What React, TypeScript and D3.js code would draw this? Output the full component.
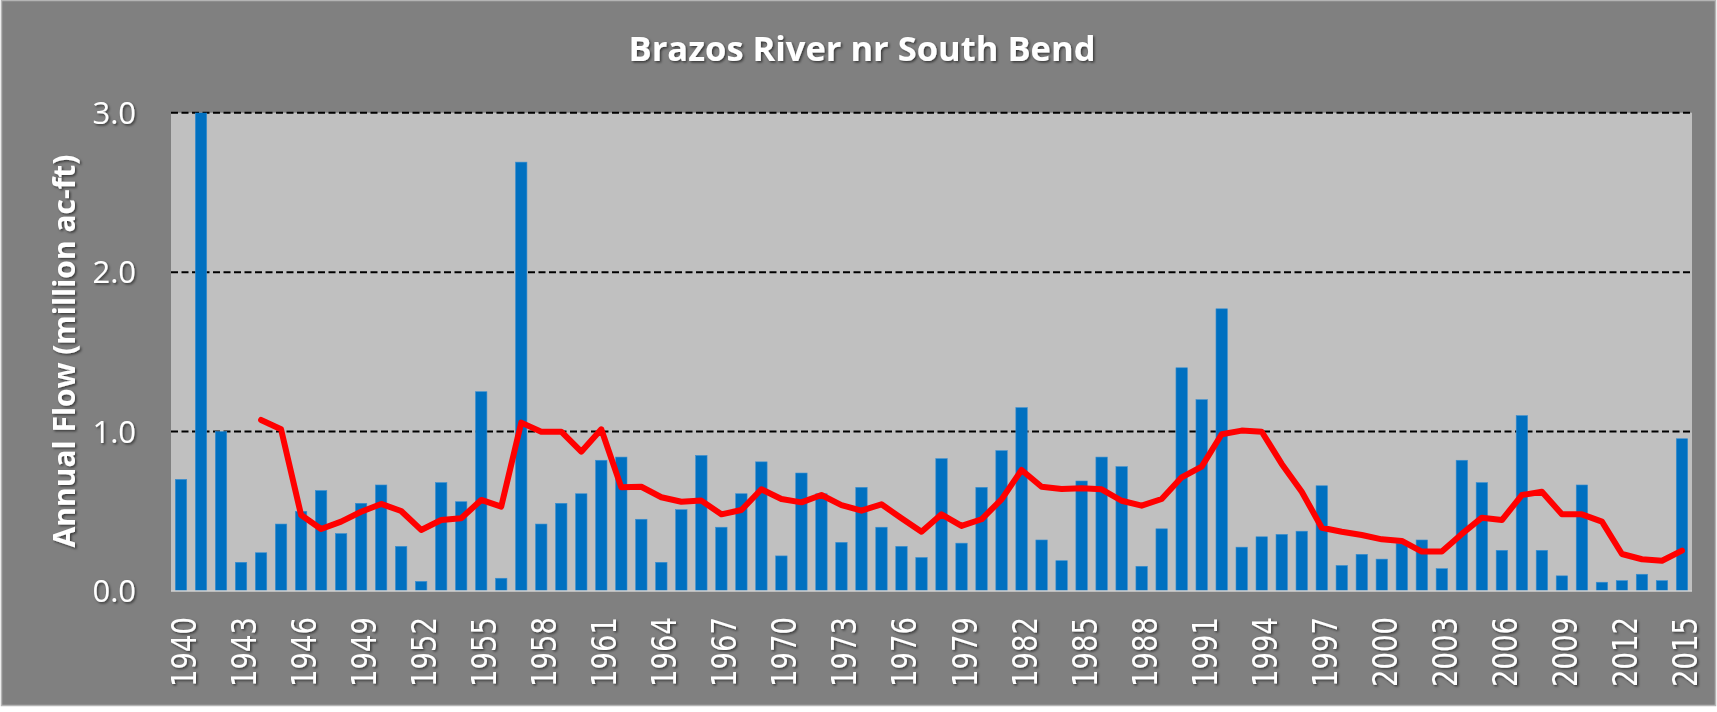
import React from "react";
import * as d3 from "d3";

const years: number[] = d3.range(1940, 2016);

const annualFlow: number[] = [
  0.70, 3.25, 1.00, 0.18, 0.24, 0.42, 0.50, 0.63, 0.36, 0.55,
  0.665, 0.28, 0.06, 0.68, 0.56, 1.25, 0.08, 2.69, 0.42, 0.55,
  0.61, 0.82, 0.84, 0.45, 0.18, 0.51, 0.85, 0.40, 0.61, 0.81,
  0.22, 0.74, 0.61, 0.305, 0.65, 0.40, 0.28, 0.21, 0.83, 0.30,
  0.65, 0.88, 1.15, 0.32, 0.19, 0.69, 0.84, 0.78, 0.155, 0.39,
  1.40, 1.20, 1.77, 0.275, 0.34, 0.355, 0.375, 0.66, 0.16, 0.23,
  0.20, 0.30, 0.32, 0.14, 0.82, 0.68, 0.255, 1.10, 0.255, 0.095,
  0.665, 0.055, 0.065, 0.105, 0.065, 0.955,
];

const movingAvg: (number | null)[] = [
  null, null, null, null, 1.073, 1.014, 0.477, 0.389, 0.435, 0.497,
  0.546, 0.502, 0.383, 0.445, 0.456, 0.571, 0.529, 1.056, 0.999, 0.999,
  0.874, 1.014, 0.65, 0.654, 0.588, 0.56, 0.567, 0.481, 0.508, 0.638,
  0.577, 0.556, 0.602, 0.539, 0.504, 0.544, 0.456, 0.372, 0.481, 0.408,
  0.45, 0.575, 0.759, 0.654, 0.64, 0.644, 0.638, 0.566, 0.535, 0.577,
  0.713, 0.78, 0.983, 1.006, 0.999, 0.797, 0.623, 0.397, 0.372, 0.351,
  0.324, 0.314, 0.247, 0.247, 0.358, 0.46, 0.445, 0.602, 0.623, 0.481,
  0.481, 0.435, 0.232, 0.199, 0.19, 0.253,
];

const yTicks: number[] = [0, 1, 2, 3];
const xTickYears: number[] = d3.range(1940, 2016, 3);

const title = "Brazos River nr South Bend";
const yTitle = "Annual Flow (million ac-ft)";

const W = 1717;
const H = 712;
const plot = { left: 171, right: 1692, top: 112.7, bottom: 591 };

export default function App() {
  const x = d3
    .scaleBand<string>()
    .domain(years.map(String))
    .range([plot.left, plot.right])
    .paddingInner(0.43)
    .paddingOuter(0.215);
  const y = d3.scaleLinear().domain([0, 3]).range([plot.bottom, plot.top]);
  const bw = x.bandwidth();

  const lineGen = d3
    .line<{ yr: number; v: number | null }>()
    .defined((d) => d.v !== null)
    .x((d) => (x(String(d.yr)) as number) + bw / 2)
    .y((d) => y(d.v as number));
  const lineData = years.map((yr, i) => ({ yr, v: movingAvg[i] }));

  return (
    <div style={{ position: "fixed", left: 0, top: 0 }}>
      <svg width={W} height={H} style={{ display: "block" }}>
        <defs>
          <filter id="tshadow" x="-10%" y="-10%" width="130%" height="130%">
            <feDropShadow dx="1.5" dy="1.5" stdDeviation="1.2" floodColor="#000" floodOpacity="0.55" />
          </filter>
          <clipPath id="plotclip">
            <rect x={plot.left} y={plot.top} width={plot.right - plot.left} height={plot.bottom - plot.top} />
          </clipPath>
        </defs>
        <rect x={0} y={0} width={W} height={H} fill="#ffffff" />
        <rect x={1.5} y={0.5} width={W - 3} height={705} fill="#808080" stroke="#b4b4b4" strokeWidth={1.5} />

        <rect
          x={plot.left}
          y={plot.top}
          width={plot.right - plot.left}
          height={plot.bottom - plot.top}
          fill="#c0c0c0"
        />

        {yTicks.filter((t) => t > 0).map((t) => (
          <line
            key={"g" + t}
            x1={plot.left}
            x2={plot.right}
            y1={y(t)}
            y2={y(t)}
            stroke="#000"
            strokeWidth={2}
            strokeDasharray="7 3.5"
          />
        ))}

        <g clipPath="url(#plotclip)">
          {years.map((yr, i) => (
            <rect
              key={yr}
              x={x(String(yr))}
              y={y(annualFlow[i])}
              width={bw}
              height={y(0) - y(annualFlow[i])}
              fill="#0070c0"
              stroke="#3a8fd0"
              strokeWidth={0.6}
            />
          ))}
        </g>

        <line x1={plot.left} x2={plot.right} y1={y(0)} y2={y(0)} stroke="#d0d0d0" strokeWidth={1.5} />

        <path
          d={lineGen(lineData) || ""}
          fill="none"
          stroke="#ff0000"
          strokeWidth={6}
          strokeLinejoin="round"
          strokeLinecap="round"
        />

        <g filter="url(#tshadow)" fill="#ffffff">
          <text
            x={862}
            y={61}
            textAnchor="middle"
            fontFamily="'Open Sans', sans-serif"
            fontWeight="bold"
            fontSize={34.5}
          >
            {title}
          </text>

          <text
            transform={`translate(75, 351) rotate(-90)`}
            textAnchor="middle"
            fontFamily="'Open Sans', sans-serif"
            fontWeight="bold"
            fontSize={30}
          >
            {yTitle}
          </text>

          {yTicks.map((t) => (
            <text
              key={"y" + t}
              x={136}
              y={y(t)}
              dy="0.36em"
              textAnchor="end"
              fontFamily="'Open Sans', sans-serif"
              fontSize={31}
            >
              {t.toFixed(1)}
            </text>
          ))}

          {xTickYears.map((yr) => {
            const cx = (x(String(yr)) as number) + bw / 2 + 15;
            return (
              <text
                key={"x" + yr}
                transform={`translate(${cx}, 617) rotate(-90)`}
                textAnchor="end"
                fontFamily="'DejaVu Sans', sans-serif"
                fontSize={34}
                textLength={70}
                lengthAdjust="spacingAndGlyphs"
              >
                {yr}
              </text>
            );
          })}
        </g>
      </svg>
    </div>
  );
}
